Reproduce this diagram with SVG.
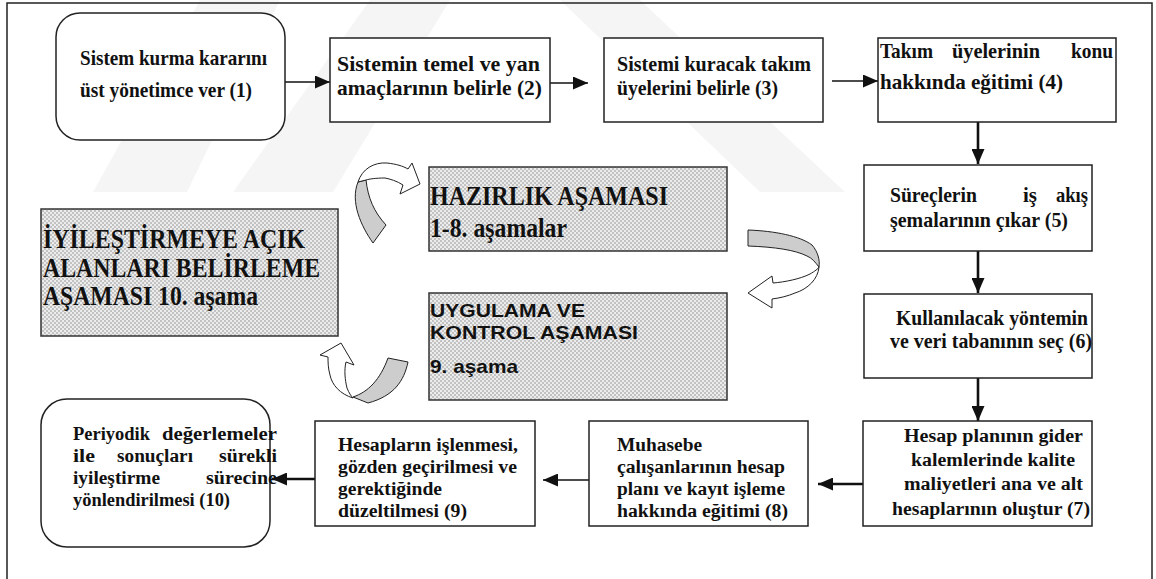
<svg xmlns="http://www.w3.org/2000/svg" width="1156" height="579" viewBox="0 0 1156 579">
  <style>
    .box { fill: #fff; stroke: #222; stroke-width: 1.5; }
    .phase { fill: url(#dots); stroke: #333; stroke-width: 1.5; }
    .t { font-family: "Liberation Serif", "Times New Roman", serif; font-weight: bold; font-size: 21px; fill: #111; }
    .s { font-size: 18.5px; }
    .big { font-size: 27px; }
    .sans { font-family: "Liberation Sans", Arial, sans-serif; font-weight: bold; font-size: 19px; fill: #111; }
    .thin { stroke: #111; stroke-width: 1.6; fill: none; }
    .thick { stroke: #111; stroke-width: 2.6; fill: none; }
    .band { fill: #cdcdcd; stroke: #222; stroke-width: 1; }
    .face { fill: #fff; stroke: #222; stroke-width: 1; }
    .wm { fill: #f5f5f5; }
  </style>
  <defs>
    <pattern id="dots" width="4" height="4" patternUnits="userSpaceOnUse">
      <rect width="4" height="4" fill="#ececec"/>
      <rect width="2" height="2" fill="#c2c2c2"/>
      <rect x="2" y="2" width="2" height="2" fill="#c2c2c2"/>
    </pattern>
    <marker id="head" markerUnits="userSpaceOnUse" markerWidth="16" markerHeight="13" refX="15" refY="6.5" orient="auto">
      <path d="M0,0 L15,6.5 L0,13 Z" fill="#111"/>
    </marker>
  </defs>

  <rect width="1156" height="579" fill="#fff"/>

  <!-- faint background watermark -->
  <g id="watermark">
    <polygon class="wm" points="200,0 280,0 187,192 93,192"/>
    <polygon class="wm" points="370,0 450,0 333,192 233,192"/>
    <polygon class="wm" points="560,0 640,0 845,192 760,192"/>
  </g>

  <!-- page frame -->
  <rect x="7" y="3" width="1145" height="620" fill="none" stroke="#222" stroke-width="1.5"/>

  <!-- connectors -->
  <g id="connectors">
    <path class="thin" d="M285,82 L330,82" marker-end="url(#head)"/>
    <path class="thin" d="M550,83 L588,83" marker-end="url(#head)"/>
    <path class="thin" d="M832,81 L878,81" marker-end="url(#head)"/>
    <path class="thick" d="M978,122 L978,164" marker-end="url(#head)"/>
    <path class="thick" d="M978,251 L978,293" marker-end="url(#head)"/>
    <path class="thick" d="M978,378 L978,421" marker-end="url(#head)"/>
    <path class="thick" d="M863,484 L818,484" marker-end="url(#head)"/>
    <path class="thin" d="M589,480 L543,480" marker-end="url(#head)"/>
    <path class="thick" d="M315,479 L272,479" marker-end="url(#head)"/>
  </g>

  <!-- cycle arrows between the phase panels -->
  <g id="cycle-arrows">
    <g id="arrow-top">
      <path class="band" d="M373,243 C361,226 350,202 358,182 L366,180 C368,198 374,212 386,225 Z"/>
      <path class="face" d="M358,182 C362,169 374,162 387,163 C396,164 403,166 408,169 L412,163 L420,184 L400,194 L403,185 C397,181 390,179 385,178 C376,178 369,179 366,180 Z"/>
    </g>
    <g id="arrow-right">
      <path class="band" d="M748,230 C775,231 800,236 812,245 C818,252 820,260 819,267 C815,262 812,258 807,256 C795,250 775,247 748,246 Z"/>
      <path class="face" d="M819,267 C818,279 808,289 795,293 C788,296 780,298 772,299 L772,308 L748,293 L772,276 L773,283 C785,282 800,279 810,274 C815,271 818,269 819,267 Z"/>
    </g>
    <g id="arrow-bottom">
      <path class="band" d="M388,358 L408,362 C404,381 394,396 368,403 L353,397 C368,392 380,380 388,358 Z"/>
      <path class="face" d="M353,398 C340,394 332,385 330,375 C328,368 328,362 328,357 L320,355 L341,343 L354,365 L346,362 C344,370 345,380 347,388 C349,393 351,396 353,398 Z"/>
    </g>
  </g>

  <!-- phase panels -->
  <g id="phase-prep">
    <rect class="phase" x="429" y="167" width="298" height="84"/>
    <text class="t big" x="430" y="205" textLength="238" lengthAdjust="spacingAndGlyphs">HAZIRLIK AŞAMASI</text>
    <text class="t big" x="430" y="237" textLength="137" lengthAdjust="spacingAndGlyphs">1-8. aşamalar</text>
  </g>
  <g id="phase-apply">
    <rect class="phase" x="429" y="293" width="298" height="107"/>
    <text class="sans" x="430" y="317" textLength="155" lengthAdjust="spacingAndGlyphs">UYGULAMA VE</text>
    <text class="sans" x="430" y="339" textLength="208" lengthAdjust="spacingAndGlyphs">KONTROL AŞAMASI</text>
    <text class="sans" x="430" y="373" textLength="88" lengthAdjust="spacingAndGlyphs">9. aşama</text>
  </g>
  <g id="phase-improve">
    <rect class="phase" x="41" y="209" width="297" height="127"/>
    <text class="t big" x="43" y="248" textLength="262" lengthAdjust="spacingAndGlyphs">İYİLEŞTİRMEYE AÇIK</text>
    <text class="t big" x="43" y="277" textLength="277" lengthAdjust="spacingAndGlyphs">ALANLARI BELİRLEME</text>
    <text class="t big" x="43" y="305" textLength="215" lengthAdjust="spacingAndGlyphs">AŞAMASI 10. aşama</text>
  </g>

  <!-- process steps -->
  <g id="step1">
    <rect class="box" x="56" y="13" width="229" height="127" rx="24"/>
    <text class="t" x="80" y="65" textLength="187" lengthAdjust="spacingAndGlyphs">Sistem kurma kararını</text>
    <text class="t" x="80" y="97" textLength="172" lengthAdjust="spacingAndGlyphs">üst yönetimce ver (1)</text>
  </g>
  <g id="step2">
    <rect class="box" x="330" y="38" width="220" height="84"/>
    <text class="t" x="337" y="71" textLength="203" lengthAdjust="spacingAndGlyphs">Sistemin temel ve yan</text>
    <text class="t" x="337" y="95" textLength="205" lengthAdjust="spacingAndGlyphs">amaçlarının belirle (2)</text>
  </g>
  <g id="step3">
    <rect class="box" x="604" y="38" width="219" height="84"/>
    <text class="t" x="617" y="71" textLength="194" lengthAdjust="spacingAndGlyphs">Sistemi kuracak takım</text>
    <text class="t" x="617" y="95" textLength="161" lengthAdjust="spacingAndGlyphs">üyelerini belirle (3)</text>
  </g>
  <g id="step4">
    <rect class="box" x="878" y="38" width="238" height="84"/>
    <text class="t" x="880" y="58" textLength="53" lengthAdjust="spacingAndGlyphs">Takım</text>
    <text class="t" x="996" y="58" text-anchor="middle" textLength="88" lengthAdjust="spacingAndGlyphs">üyelerinin</text>
    <text class="t" x="1113" y="58" text-anchor="end" textLength="42" lengthAdjust="spacingAndGlyphs">konu</text>
    <text class="t" x="880" y="89" textLength="183" lengthAdjust="spacingAndGlyphs">hakkında eğitimi (4)</text>
  </g>
  <g id="step5">
    <rect class="box" x="864" y="165" width="228" height="86"/>
    <text class="t" x="890" y="202" textLength="87" lengthAdjust="spacingAndGlyphs">Süreçlerin</text>
    <text class="t" x="1030" y="202" text-anchor="middle" textLength="14" lengthAdjust="spacingAndGlyphs">iş</text>
    <text class="t" x="1088" y="202" text-anchor="end" textLength="32" lengthAdjust="spacingAndGlyphs">akış</text>
    <text class="t" x="890" y="227" textLength="178" lengthAdjust="spacingAndGlyphs">şemalarının çıkar (5)</text>
  </g>
  <g id="step6">
    <rect class="box" x="864" y="294" width="228" height="84"/>
    <text class="t" x="896" y="325" textLength="192" lengthAdjust="spacingAndGlyphs">Kullanılacak yöntemin</text>
    <text class="t" x="890" y="348" textLength="202" lengthAdjust="spacingAndGlyphs">ve veri tabanının seç (6)</text>
  </g>
  <g id="step7">
    <rect class="box" x="863" y="421" width="229" height="105"/>
    <text class="t s" x="904" y="442" textLength="179" lengthAdjust="spacingAndGlyphs">Hesap planının gider</text>
    <text class="t s" x="911" y="466" textLength="164" lengthAdjust="spacingAndGlyphs">kalemlerinde kalite</text>
    <text class="t s" x="904" y="490" textLength="179" lengthAdjust="spacingAndGlyphs">maliyetleri ana ve alt</text>
    <text class="t s" x="892" y="515" textLength="198" lengthAdjust="spacingAndGlyphs">hesaplarının oluştur (7)</text>
  </g>
  <g id="step8">
    <rect class="box" x="589" y="421" width="219" height="105"/>
    <text class="t s" x="617" y="451" textLength="85" lengthAdjust="spacingAndGlyphs">Muhasebe</text>
    <text class="t s" x="617" y="473" textLength="168" lengthAdjust="spacingAndGlyphs">çalışanlarının hesap</text>
    <text class="t s" x="617" y="495" textLength="168" lengthAdjust="spacingAndGlyphs">planı ve kayıt işleme</text>
    <text class="t s" x="617" y="517" textLength="171" lengthAdjust="spacingAndGlyphs">hakkında eğitimi (8)</text>
  </g>
  <g id="step9">
    <rect class="box" x="315" y="421" width="220" height="105"/>
    <text class="t s" x="338" y="451" textLength="180" lengthAdjust="spacingAndGlyphs">Hesapların işlenmesi,</text>
    <text class="t s" x="338" y="473" textLength="179" lengthAdjust="spacingAndGlyphs">gözden geçirilmesi ve</text>
    <text class="t s" x="338" y="495" textLength="104" lengthAdjust="spacingAndGlyphs">gerektiğinde</text>
    <text class="t s" x="338" y="517" textLength="129" lengthAdjust="spacingAndGlyphs">düzeltilmesi (9)</text>
  </g>
  <g id="step10">
    <rect class="box" x="41" y="399" width="229" height="148" rx="26"/>
    <text class="t s" x="73" y="440" textLength="77" lengthAdjust="spacingAndGlyphs">Periyodik</text>
    <text class="t s" x="277" y="440" text-anchor="end" textLength="115" lengthAdjust="spacingAndGlyphs">değerlemeler</text>
    <text class="t s" x="73" y="462" textLength="22" lengthAdjust="spacingAndGlyphs">ile</text>
    <text class="t s" x="155" y="462" text-anchor="middle" textLength="76" lengthAdjust="spacingAndGlyphs">sonuçları</text>
    <text class="t s" x="277" y="462" text-anchor="end" textLength="58" lengthAdjust="spacingAndGlyphs">sürekli</text>
    <text class="t s" x="73" y="484" textLength="87" lengthAdjust="spacingAndGlyphs">iyileştirme</text>
    <text class="t s" x="277" y="484" text-anchor="end" textLength="71" lengthAdjust="spacingAndGlyphs">sürecine</text>
    <text class="t s" x="73" y="506" textLength="157" lengthAdjust="spacingAndGlyphs">yönlendirilmesi (10)</text>
  </g>
</svg>
